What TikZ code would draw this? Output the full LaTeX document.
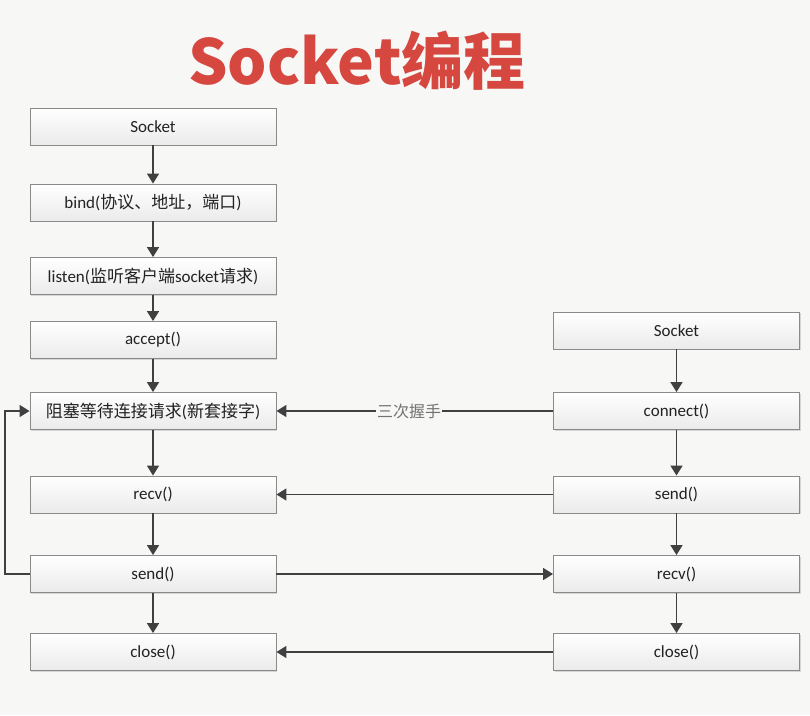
\documentclass[tikz,border=0pt]{standalone}
\usepackage{fontspec}
\setmainfont{Carlito}
\newfontfamily\cjk{Noto Sans CJK SC}
\usetikzlibrary{arrows.meta,shadows}
\definecolor{bgc}{HTML}{F7F7F5}
\definecolor{boxline}{HTML}{8A8A8A}
\definecolor{arr}{HTML}{404040}
\definecolor{titlered}{HTML}{D6473F}
\definecolor{txt}{HTML}{222222}
\tikzset{
  stepbox/.style={draw=boxline, line width=0.9pt, top color=white, bottom color=black!8,
    minimum width=246pt, minimum height=37pt, inner sep=0pt,
    font=\fontsize{17}{19}\selectfont, text=txt,
    drop shadow={shadow xshift=1.2pt, shadow yshift=-1.2pt, fill=black!25, opacity=0.6}},
  flow/.style={draw=arr, line width=1.6pt, -{Triangle[length=10pt,width=12pt]}},
}
\begin{document}
\begin{tikzpicture}[x=1pt,y=-1pt]
\useasboundingbox[fill=bgc] (0,0) rectangle (810,715);
\node[font=\cjk\bfseries\fontsize{62}{70}\selectfont, text=titlered] (title) at (357,61) {Socket编程};
% left column
\node[stepbox] (s1) at (153,126.5) {Socket};
\node[stepbox] (s2) at (153,202.5) {bind(\cjk 协议、地址，端口\rmfamily)};
\node[stepbox] (s3) at (153,276) {listen(\cjk 监听客户端\rmfamily socket\cjk 请求\rmfamily)};
\node[stepbox] (s4) at (153,340) {accept()};
\node[stepbox] (s5) at (153,411) {\cjk 阻塞等待连接请求\rmfamily(\cjk 新套接字\rmfamily)};
\node[stepbox] (s6) at (153,494.5) {recv()};
\node[stepbox] (s7) at (153,574) {send()};
\node[stepbox] (s8) at (153,652) {close()};
% right column
\node[stepbox] (c1) at (676.5,330.5) {Socket};
\node[stepbox] (c2) at (676.5,411) {connect()};
\node[stepbox] (c3) at (676.5,494.5) {send()};
\node[stepbox] (c4) at (676.5,574) {recv()};
\node[stepbox] (c5) at (676.5,652) {close()};
% vertical flows
\foreach \a/\b in {s1/s2,s2/s3,s3/s4,s4/s5,s5/s6,s6/s7,s7/s8,c1/c2,c2/c3,c3/c4,c4/c5}
  \draw[flow] (\a) -- (\b);
% horizontal flows
\draw[flow] (c2) -- node[fill=bgc, inner sep=1pt, text=black!55, font=\cjk\fontsize{16}{18}\selectfont, pos=0.52] (hs) {三次握手} (s5);
\draw[flow] (c3) -- (s6);
\draw[flow] (s7) -- (c4);
\draw[flow] (c5) -- (s8);
% loop back
\coordinate (lb) at (5,574);
\coordinate (lt) at (5,411);
\draw[flow] (s7.west) -- (lb) -- (lt) -- (s5.west);
\end{tikzpicture}
\end{document}
